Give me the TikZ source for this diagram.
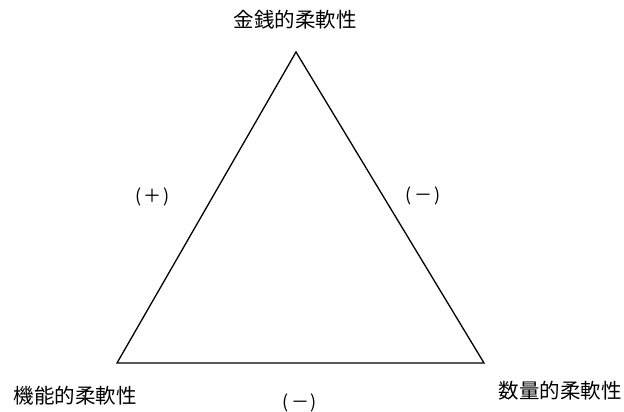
\documentclass[tikz,border=0pt]{standalone}
\usepackage{fontspec}
\newfontfamily\jpfont{Noto Sans CJK JP}
\begin{document}
\begin{tikzpicture}[x=1pt,y=-1pt,
  lbl/.style={font=\jpfont\fontsize{20.5}{20.5}\selectfont, inner sep=0pt, anchor=center},
  sgn/.style={font=\jpfont\fontsize{18}{18}\selectfont, inner sep=0pt, anchor=center},
  edge/.style={draw=black, line width=1.3pt, line join=miter}]
\useasboundingbox (0,0) rectangle (624,412);
\coordinate (A) at (296,52);
\coordinate (B) at (117,363);
\coordinate (C) at (484,363);
\draw[edge] (A) -- (B) -- (C) -- cycle;
\node[lbl] (top) at (295,20) {金銭的柔軟性};
\node[lbl] (bl) at (75,396) {機能的柔軟性};
\node[lbl] (br) at (560,391) {数量的柔軟性};
\node[sgn] (p1) at (153,197) {(\hspace{2pt}＋\hspace{2pt})};
\node[sgn] (m1) at (423,196) {(\hspace{2pt}－\hspace{2pt})};
\node[sgn] (m2) at (300,403) {(\hspace{2pt}－\hspace{2pt})};
\end{tikzpicture}
\end{document}
